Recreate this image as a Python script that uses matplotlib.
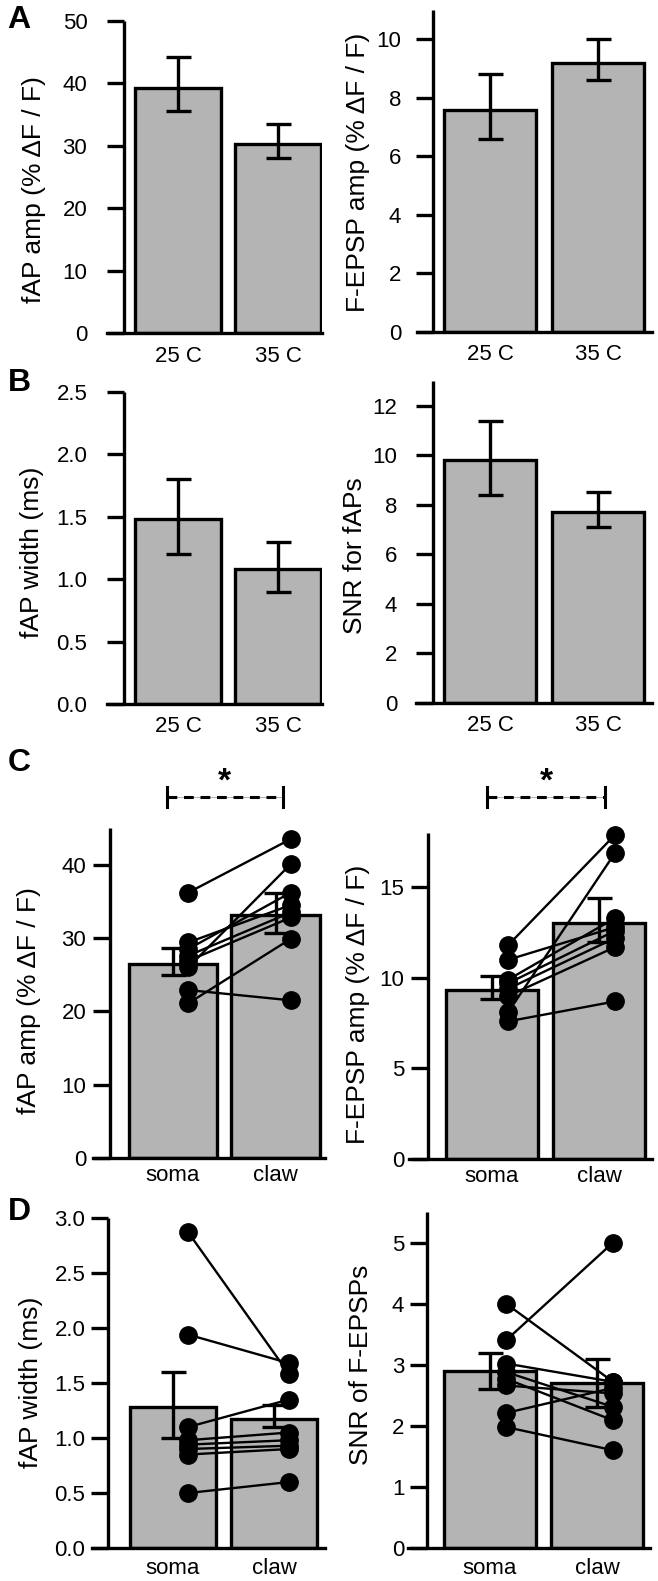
import numpy as np
import matplotlib.pyplot as plt
from matplotlib.transforms import blended_transform_factory

plt.rcParams['font.family'] = ['Liberation Sans', 'DejaVu Sans']

# ---- data ----
temp_labels = ['25 C', '35 C']
loc_labels = ['soma', 'claw']

# A: fAP amplitude / F-EPSP amplitude vs temperature (mean, lower, upper)
fap_amp_temp = [39.2, 30.3]
fap_amp_temp_lo = [35.5, 28.1]
fap_amp_temp_hi = [44.2, 33.5]
fepsp_amp_temp = [7.6, 9.2]
fepsp_amp_temp_lo = [6.6, 8.6]
fepsp_amp_temp_hi = [8.8, 10.0]

# B: fAP width / SNR vs temperature
fap_width_temp = [1.48, 1.08]
fap_width_temp_lo = [1.2, 0.9]
fap_width_temp_hi = [1.8, 1.3]
snr_fap_temp = [9.8, 7.7]
snr_fap_temp_lo = [8.4, 7.1]
snr_fap_temp_hi = [11.4, 8.5]

# C: fAP / F-EPSP amplitude, soma vs claw
fap_amp_loc = [26.5, 33.1]
fap_amp_loc_lo = [25.0, 30.7]
fap_amp_loc_hi = [28.7, 36.2]
fap_amp_soma = [36.2, 29.4, 28.5, 27.6, 26.9, 26.0, 22.9, 21.1]
fap_amp_claw = [43.5, 34.5, 36.2, 33.5, 32.8, 40.1, 21.5, 29.9]

fepsp_amp_loc = [9.35, 13.05]
fepsp_amp_loc_lo = [8.85, 12.0]
fepsp_amp_loc_hi = [10.1, 14.4]
fepsp_amp_soma = [11.8, 11.0, 9.9, 9.7, 9.4, 9.0, 8.1, 7.6]
fepsp_amp_claw = [17.9, 12.8, 13.3, 12.6, 12.2, 11.7, 16.9, 8.7]

# D: fAP width / SNR of F-EPSPs, soma vs claw
fap_width_loc = [1.28, 1.17]
fap_width_loc_lo = [1.0, 1.1]
fap_width_loc_hi = [1.6, 1.3]
fap_width_soma = [2.87, 1.94, 1.10, 0.98, 0.94, 0.90, 0.85, 0.50]
fap_width_claw = [1.58, 1.68, 1.35, 1.05, 0.98, 0.93, 0.90, 0.60]

snr_fepsp_loc = [2.9, 2.7]
snr_fepsp_loc_lo = [2.6, 2.3]
snr_fepsp_loc_hi = [3.2, 3.1]
snr_fepsp_soma = [4.0, 3.4, 3.02, 2.88, 2.77, 2.66, 2.21, 1.98]
snr_fepsp_claw = [2.72, 5.0, 2.72, 2.31, 2.09, 2.53, 2.62, 1.60]

# ---- style ----
W, H = 658, 1581
BAR_COLOR = '#b4b4b4'
LW = 2.4
FS = 16
LABEL_FS = 19

fig = plt.figure(figsize=(W / 100, H / 100), dpi=100)


def make_panel(lay, means, lo, hi, ticklabels, ylabel, yticks, fmt,
               soma=None, claw=None):
    # lay holds pixel layout: spine ends, y-axis x, bar centres, label centre
    l, r, t, b = lay['l'], lay['r'], lay['t'], lay['b']
    ax = fig.add_axes([l / W, 1 - b / H, (r - l) / W, (b - t) / H])
    unit = lay['c1'] - lay['c0']
    ax.set_xlim((l - lay['c0']) / unit, (r - lay['c0']) / unit)
    ax.set_ylim(0, lay['ymax'])

    x = np.arange(len(means))
    means = np.array(means)
    yerr = [means - np.array(lo), np.array(hi) - means]
    ax.bar(x, means, width=0.86, color=BAR_COLOR, edgecolor='black',
           linewidth=LW, zorder=1)
    ax.errorbar(x, means, yerr=yerr, fmt='none', ecolor='black',
                elinewidth=LW, capsize=9, capthick=LW, zorder=2)

    if soma is not None:
        xs = x + 0.15
        for s, c in zip(soma, claw):
            ax.plot(xs, [s, c], color='black', lw=1.7, zorder=3,
                    clip_on=False)
        ax.plot(np.full(len(soma), xs[0]), soma, 'o', color='black',
                ms=12.5, zorder=4, clip_on=False)
        ax.plot(np.full(len(claw), xs[1]), claw, 'o', color='black',
                ms=12.5, zorder=4, clip_on=False)

    for side in ['top', 'right']:
        ax.spines[side].set_visible(False)
    ax.spines['left'].set_position(('axes', (lay['yx'] - l) / (r - l)))
    ax.spines['left'].set_linewidth(LW)
    ax.spines['bottom'].set_linewidth(LW)
    ax.spines['left'].set_capstyle('butt')

    ax.set_yticks(yticks)
    ax.set_yticklabels([fmt % v for v in yticks])
    ax.tick_params(axis='y', length=12, width=LW, labelsize=FS,
                   pad=lay['ypad'] * 0.72)
    ax.set_xticks(x)
    ax.set_xticklabels(ticklabels)
    ax.tick_params(axis='x', length=0, labelsize=FS, pad=lay['xpad'])
    ax.patch.set_visible(False)

    ax.set_ylabel(ylabel, fontsize=LABEL_FS, va='center', ha='center')
    lx, ly = lay['lab']
    ax.yaxis.set_label_coords((lx - l) / (r - l), (b - ly) / (b - t))
    return ax


def sig_bracket(ax, lay, x0, x1):
    tr = blended_transform_factory(ax.transData, ax.transAxes)
    yb = (lay['b'] - lay['sig']) / (lay['b'] - lay['t'])
    ys = (lay['b'] - lay['star']) / (lay['b'] - lay['t'])
    dh = 10 / (lay['b'] - lay['t'])
    ax.plot([x0, x1], [yb, yb], color='#b0b0b0', lw=0.7, transform=tr,
            clip_on=False)
    ax.plot([x0, x1], [yb, yb], color='black', lw=2.2, ls=(0, (3.2, 2.2)),
            transform=tr, clip_on=False)
    for xe in (x0, x1):
        ax.plot([xe, xe], [yb - dh, yb + dh], color='black', lw=2.2,
                transform=tr, clip_on=False)
    ax.text((x0 + x1) / 2, ys, '*', fontsize=24, fontweight='bold',
            ha='center', va='center', transform=tr)


lay_a1 = dict(l=107, r=322, t=21, b=333, yx=124, c0=178, c1=278, ymax=50,
              ypad=20, xpad=9, lab=(34, 190))
lay_a2 = dict(l=417, r=652, t=10, b=332, yx=433, c0=490, c1=598, ymax=11,
              ypad=15, xpad=9, lab=(358, 172))
lay_b1 = dict(l=107, r=322, t=392, b=704, yx=124, c0=178, c1=278, ymax=2.5,
              ypad=20, xpad=9, lab=(32, 552))
lay_b2 = dict(l=416, r=652, t=381, b=703, yx=433, c0=490, c1=598, ymax=13,
              ypad=19, xpad=9, lab=(355, 556))
lay_c1 = dict(l=93, r=325, t=828, b=1158, yx=110, c0=173, c1=275.5, ymax=45,
              ypad=7, xpad=5, lab=(29, 1001), sig=797, star=782)
lay_c2 = dict(l=409, r=652, t=833, b=1159, yx=428, c0=492, c1=599, ymax=18,
              ypad=7, xpad=5, lab=(358, 1004), sig=797, star=782)
lay_d1 = dict(l=92, r=325, t=1218, b=1548, yx=108, c0=173, c1=274, ymax=3.0,
              ypad=6, xpad=7, lab=(31, 1382))
lay_d2 = dict(l=408, r=650, t=1212, b=1548, yx=427, c0=490, c1=597, ymax=5.5,
              ypad=6, xpad=7, lab=(361, 1365))

make_panel(lay_a1, fap_amp_temp, fap_amp_temp_lo, fap_amp_temp_hi, temp_labels,
           'fAP amp (% \u0394F / F)', np.arange(0, 51, 10), '%d')
make_panel(lay_a2, fepsp_amp_temp, fepsp_amp_temp_lo, fepsp_amp_temp_hi,
           temp_labels, 'F-EPSP amp (% \u0394F / F)', np.arange(0, 11, 2), '%d')
make_panel(lay_b1, fap_width_temp, fap_width_temp_lo, fap_width_temp_hi,
           temp_labels, 'fAP width (ms)', np.arange(0, 2.51, 0.5), '%.1f')
make_panel(lay_b2, snr_fap_temp, snr_fap_temp_lo, snr_fap_temp_hi,
           temp_labels, 'SNR for fAPs', np.arange(0, 13, 2), '%d')
ax_c1 = make_panel(lay_c1, fap_amp_loc, fap_amp_loc_lo, fap_amp_loc_hi,
                   loc_labels, 'fAP amp (% \u0394F / F)', np.arange(0, 41, 10),
                   '%d', fap_amp_soma, fap_amp_claw)
ax_c2 = make_panel(lay_c2, fepsp_amp_loc, fepsp_amp_loc_lo, fepsp_amp_loc_hi,
                   loc_labels, 'F-EPSP amp (% \u0394F / F)',
                   np.arange(0, 16, 5), '%d', fepsp_amp_soma, fepsp_amp_claw)
make_panel(lay_d1, fap_width_loc, fap_width_loc_lo, fap_width_loc_hi,
           loc_labels, 'fAP width (ms)', np.arange(0, 3.01, 0.5), '%.1f',
           fap_width_soma, fap_width_claw)
make_panel(lay_d2, snr_fepsp_loc, snr_fepsp_loc_lo, snr_fepsp_loc_hi,
           loc_labels, 'SNR of F-EPSPs', np.arange(0, 6, 1), '%d',
           snr_fepsp_soma, snr_fepsp_claw)

sig_bracket(ax_c1, lay_c1, -0.06, 1.07)
sig_bracket(ax_c2, lay_c2, -0.05, 1.06)

# panel letters
for letter, ypx in zip('ABCD', [20, 383, 763, 1212]):
    fig.text(19 / W, 1 - ypx / H, letter, fontsize=23, fontweight='bold',
             ha='center', va='center')

fig.savefig('out.png', dpi=100)
